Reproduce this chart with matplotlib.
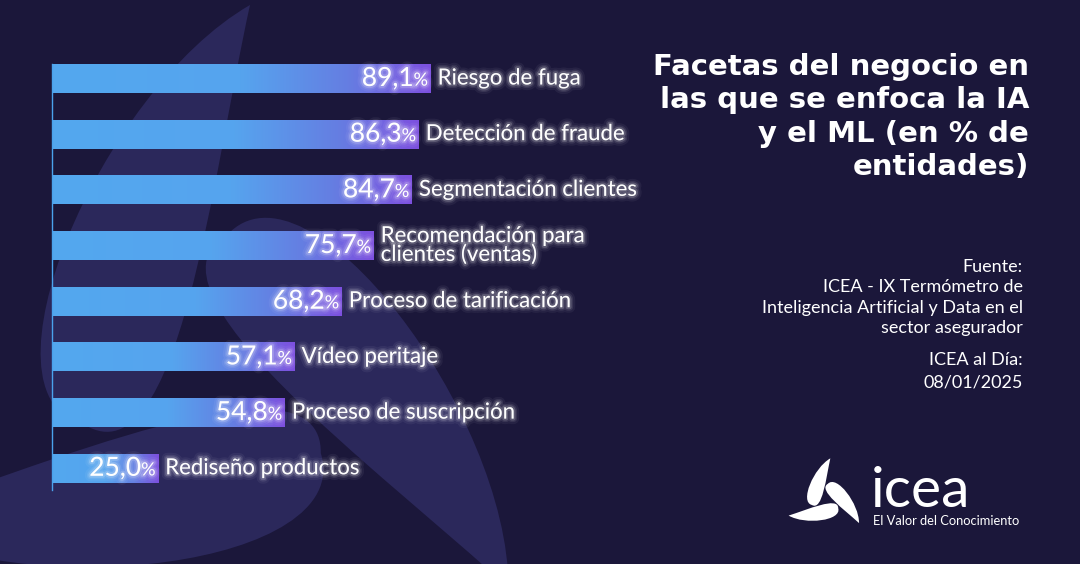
import numpy as np
import matplotlib
matplotlib.use("Agg")
import matplotlib.pyplot as plt
import matplotlib.patheffects as pe
from matplotlib.path import Path
from matplotlib.patches import PathPatch
from matplotlib.colors import LinearSegmentedColormap

# datos
categorias = ["Riesgo de fuga", "Detección de fraude", "Segmentación clientes",
              "Recomendación para\nclientes (ventas)", "Proceso de tarificación",
              "Vídeo peritaje", "Proceso de suscripción", "Rediseño productos"]
valores = [89.1, 86.3, 84.7, 75.7, 68.2, 57.1, 54.8, 25.0]

titulo = ["Facetas del negocio en", "las que se enfoca la IA",
          "y el ML (en % de", "entidades)"]
fuente = ["Fuente:", "ICEA - IX Termómetro de",
          "Inteligencia Artificial y Data en el", "sector asegurador"]
fecha = ["ICEA al Día:", "08/01/2025"]

BG = "#1b173a"
HOJA = "#2b285b"
FONT = "Lato"

W, H = 1080, 564
fig = plt.figure(figsize=(W / 100, H / 100), dpi=100, facecolor=BG)

# fondo en pixeles
bg = fig.add_axes([0, 0, 1, 1], zorder=0)
bg.set_xlim(0, W)
bg.set_ylim(H, 0)
bg.axis("off")
bg.set_facecolor(BG)


def hoja(cx, cy, s, ang):
    # una hoja del logo, base y punta relativas al centro
    B = np.array([-42.0, 18.0])
    T = np.array([13.0, -122.0])
    L = np.linalg.norm(T - B)
    u = (T - B) / L
    n = np.array([u[1], -u[0]])
    n = -n if n[0] > 0 else n
    izq = [B, B + L * (-0.04 * u + 0.26 * n), B + L * (0.7 * u + 0.24 * n), T]
    der = [T, B + L * (0.62 * u - 0.06 * n), B + L * (-0.04 * u - 0.24 * n), B]
    pts = np.array(izq + der[1:])
    a = np.radians(ang)
    R = np.array([[np.cos(a), -np.sin(a)], [np.sin(a), np.cos(a)]])
    pts = pts @ R.T * s + np.array([cx, cy])
    codes = [Path.MOVETO, Path.CURVE4, Path.CURVE4, Path.CURVE4,
             Path.CURVE4, Path.CURVE4, Path.CURVE4]
    return Path(pts, codes)


for ang in (0, 120, 240):
    bg.add_patch(PathPatch(hoja(211, 371, 3.0, ang), fc=HOJA, ec="none"))
    bg.add_patch(PathPatch(hoja(826, 499, 1 / 3, ang), fc="white", ec="none"))

bg.text(871, 507, "icea", color="white", fontsize=41, family=FONT,
        ha="left", va="baseline")
bg.text(873, 525, "El Valor del Conocimiento", color="white", fontsize=9.3,
        family=FONT, ha="left", va="baseline")

# titulo y fuente
for i, t in enumerate(titulo):
    bg.text(1029, 75 + 33.5 * i, t, color="white", fontsize=21,
            family="DejaVu Sans", fontweight="bold", ha="right", va="baseline")
for yy, t in zip([272, 292, 313, 333], fuente):
    bg.text(1023, yy, t, color="white", fontsize=13, family=FONT,
            ha="right", va="baseline")
for yy, t in zip([365, 387], fecha):
    bg.text(1023, yy, t, color="white", fontsize=13, family=FONT,
            ha="right", va="baseline")

# grafico de barras
ax = fig.add_axes([52 / W, (H - 490) / H, 425 / W, 426 / H], zorder=1)
ax.patch.set_alpha(0)
y = np.arange(len(valores))
barras = ax.barh(y, valores, height=0.52, color="none", edgecolor="none")
for s in ["top", "right", "bottom"]:
    ax.spines[s].set_visible(False)
ax.spines["left"].set_color("#4aa2ec")
ax.spines["left"].set_linewidth(1.0)
ax.set_xticks([])
ax.set_yticks([])

cmap = LinearSegmentedColormap.from_list(
    "g", [(0, "#53a8ef"), (0.5, "#56a4ee"), (0.78, "#657ee2"), (1, "#7d50df")])
grad = np.linspace(0, 1, 256).reshape(1, -1)
for b in barras:
    x0, y0 = b.get_x(), b.get_y()
    im = ax.imshow(grad, cmap=cmap, aspect="auto", interpolation="bicubic",
                   extent=[x0, x0 + b.get_width(), y0 + b.get_height(), y0],
                   zorder=2)
    im.set_clip_path(b)
ax.set_xlim(0, 100)
ax.set_ylim(7.39, -0.26)

brillo = [pe.Stroke(linewidth=8, foreground="white", alpha=0.05),
          pe.Stroke(linewidth=5, foreground="white", alpha=0.09),
          pe.Stroke(linewidth=2.8, foreground="white", alpha=0.18),
          pe.Normal()]

fig.canvas.draw()
r = fig.canvas.get_renderer()
for yi, v, c in zip(y, valores, categorias):
    pct = ax.annotate("%", (v, yi), xytext=(-2, -1.5), textcoords="offset points",
                      ha="right", va="center", color="white", fontsize=13,
                      family=FONT, zorder=5, path_effects=brillo)
    w = pct.get_window_extent(r).width * 72 / 100
    ax.annotate(f"{v:.1f}".replace(".", ","), (v, yi), xytext=(-2 - w, 0),
                textcoords="offset points", ha="right", va="center",
                color="white", fontsize=19, family=FONT, zorder=5,
                path_effects=brillo)
    ax.annotate(c, (v, yi), xytext=(5, 0), textcoords="offset points",
                ha="left", va="center", color="white", fontsize=16,
                family=FONT, linespacing=0.92, zorder=5, path_effects=brillo,
                annotation_clip=False)

fig.savefig("out.png", dpi=100, facecolor=BG)
